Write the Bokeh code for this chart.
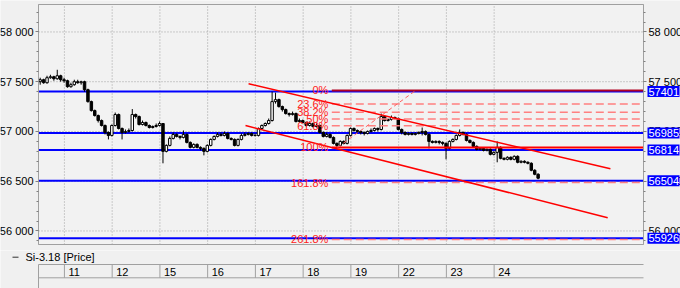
from bokeh.plotting import figure
from bokeh.models import Range1d, FixedTicker, ColumnDataSource, LinearAxis
from bokeh.layouts import column
from bokeh.core.properties import value
from bokeh.embed import file_html
from bokeh.resources import INLINE

# ---------------- data ----------------
series_name = "Si-3.18 [Price]"
day_labels = ["11", "12", "15", "16", "17", "18", "19", "22", "23", "24"]
day_start_bar = [8, 22, 36, 50, 64, 78, 92, 106, 120, 134]

opens = [57500,57520,57490,57540,57550,57530,57560,57520,57510,57450,
57470,57500,57490,57500,57420,57300,57210,57160,57110,57060,
56990,56960,57060,57170,57030,56990,57000,57010,57170,57150,
57070,57090,57060,57040,57050,57060,57080,56800,56860,56930,
56970,56950,56940,56970,56890,56840,56870,56840,56830,56800,
56860,56920,56950,56970,56960,56980,56930,56920,56860,56920,
56960,56970,56980,56960,56960,57030,57060,57080,57110,57300,
57320,57250,57220,57180,57170,57180,57100,57110,57090,57060,
57080,57050,57060,56990,56950,56970,56940,56880,56860,56900,
56880,56960,57030,57010,57000,56990,56980,57000,57010,57030,
57020,57150,57110,57120,57140,57130,57020,56990,56970,56980,
56970,56980,56990,57000,56970,56900,56890,56900,56890,56880,
56830,56900,56920,56960,56990,56970,56910,56890,56850,56820,
56830,56810,56820,56770,56790,56840,56730,56720,56740,56720,
56750,56690,56700,56690,56680,56610,56570]

closes = [57520,57490,57540,57550,57530,57560,57520,57510,57450,57470,
57500,57490,57500,57420,57300,57210,57160,57110,57060,56990,
56960,57060,57170,57030,56990,57000,57010,57170,57150,57070,
57090,57060,57040,57050,57060,57080,56800,56860,56930,56970,
56950,56940,56970,56890,56840,56870,56840,56830,56800,56860,
56920,56950,56970,56960,56980,56930,56920,56860,56920,56960,
56970,56980,56960,56960,57030,57060,57080,57110,57300,57320,
57250,57220,57180,57170,57180,57100,57110,57090,57060,57080,
57050,57060,56990,56950,56970,56940,56880,56860,56900,56880,
56960,57030,57010,57000,56990,56980,57000,57010,57030,57020,
57150,57110,57120,57140,57130,57020,56990,56970,56980,56970,
56980,56990,57000,56970,56900,56890,56900,56890,56880,56830,
56900,56920,56960,56990,56970,56910,56890,56850,56820,56830,
56810,56820,56770,56790,56840,56730,56720,56740,56720,56750,
56690,56700,56690,56680,56610,56570,56530]

highs = [57540,57530,57560,57570,57560,57620,57570,57540,57520,57490,
57520,57520,57510,57510,57430,57310,57220,57170,57120,57070,
57000,57070,57190,57180,57040,57020,57030,57225,57180,57160,
57110,57100,57070,57060,57080,57100,57085,56870,56950,56990,
56980,56960,57010,56980,56900,56880,56880,56850,56840,56870,
56930,56960,56990,56990,57000,56990,56940,56930,56930,56980,
56990,56990,56990,56980,57040,57070,57090,57130,57400,57390,
57330,57260,57230,57190,57200,57190,57130,57120,57100,57100,
57090,57080,57070,57000,56990,56980,56950,56890,56910,56910,
56970,57040,57040,57020,57010,57000,57010,57030,57040,57040,
57180,57160,57130,57160,57150,57140,57030,57000,56990,56990,
56990,57000,57040,57010,56980,56910,56910,56910,56900,56890,
56910,56930,56970,57020,57000,56980,56920,56900,56860,56840,
56840,56830,56830,56800,56900,56850,56740,56750,56750,56760,
56760,56710,56710,56700,56690,56620,56580]

lows = [57470,57480,57480,57530,57510,57520,57500,57490,57440,57440,
57460,57480,57470,57400,57290,57200,57150,57090,57050,56970,
56920,56950,57050,57020,56920,56980,56990,57000,57130,57060,
57060,57050,57030,57030,57040,57050,56680,56790,56850,56920,
56940,56920,56930,56880,56830,56830,56830,56810,56760,56790,
56850,56910,56940,56950,56950,56920,56910,56850,56850,56910,
56950,56960,56950,56950,56950,57020,57050,57070,57100,57280,
57240,57200,57170,57150,57160,57090,57090,57080,57050,57050,
57040,57040,56980,56940,56940,56930,56870,56845,56850,56870,
56870,56950,57000,56980,56970,56960,56970,56990,57000,57000,
57010,57100,57100,57110,57120,57010,56970,56960,56960,56960,
56960,56970,56960,56960,56830,56880,56880,56870,56860,56720,
56820,56890,56910,56950,56960,56900,56880,56840,56810,56810,
56800,56800,56760,56760,56690,56720,56710,56710,56710,56710,
56680,56680,56680,56670,56600,56560,56520]

ytick_values = [56000, 56500, 57000, 57500, 58000]
ytick_labels = ["56 000", "56 500", "57 000", "57 500", "58 000"]
price_levels = [57401, 56985, 56814, 56504, 55926]

fib_ratios = [0, 23.6, 38.2, 50, 61.8, 100, 161.8, 261.8]
fib_texts = ["0%", "23.6%", "38.2%", "50%", "61.8%", "100%", "161.8%", "261.8%"]
fib_high = 57412
fib_low = 56840
fib_anchor_bars = [87.7, 110.6]

channel_upper_x = [61.6, 167.7]
channel_upper_y = [57479, 56625]
channel_lower_x = [60.7, 166.9]
channel_lower_y = [57060, 56133]

# ---------------- layout constants ----------------
X0, X1 = 0.0, 177.4          # bar-units spanned by the plot area
Y0, Y1 = 55864, 58276        # price span of the plot area
FRAME_W, FRAME_H = 605, 240
PX = FRAME_W / (X1 - X0)     # pixels per bar
PY = FRAME_H / (Y1 - Y0)     # pixels per price unit
LEFT, RIGHT = 38, 37
TOP, BOT = 4, 6
FONT = "Liberation Sans"
BG = "#f0f0f0"
GRIDC = "#a0a0a0"

bx0 = X0 - LEFT / PX
bx1 = X1 + RIGHT / PX

p = figure(width=680, height=250,
           x_range=Range1d(bx0, bx1),
           y_range=Range1d(Y0 - BOT / PY, Y1 + TOP / PY),
           x_axis_location=None, y_axis_location=None, toolbar_location=None,
           output_backend="svg", min_border=0,
           background_fill_color=BG, border_fill_color=BG, outline_line_color=None)
p.grid.visible = False

# plot area
p.quad(left=[X0], right=[X1], bottom=[Y0], top=[Y1],
       fill_color="#f2f2f2", line_color="#a0a0a0", line_width=1)

for loc, fx in (("left", X0), ("right", X1)):
    ax = LinearAxis(fixed_location=fx, bounds=(Y0, Y1),
                    ticker=FixedTicker(ticks=ytick_values,
                                       minor_ticks=list(range(55900, 58300, 100))))
    ax.major_label_overrides = {v: s for v, s in zip(ytick_values, ytick_labels)}
    ax.major_label_text_font = FONT
    ax.major_label_text_font_size = "11px"
    ax.major_label_text_color = "black"
    ax.major_tick_out = 3
    ax.major_tick_in = 0
    ax.minor_tick_out = 2
    ax.minor_tick_in = 0
    ax.major_label_standoff = 2
    ax.axis_line_color = "#a0a0a0"
    ax.major_tick_line_color = "#808080"
    ax.minor_tick_line_color = "#808080"
    p.add_layout(ax, loc)

# dotted grid inside the plot area
n_t = len(ytick_values)
p.segment(x0=[X0] * n_t, x1=[X1] * n_t, y0=ytick_values, y1=ytick_values,
          line_color=GRIDC, line_dash="1 2", line_width=1)
sep = [d - 0.4 for d in day_start_bar]
p.segment(x0=sep, x1=sep, y0=[Y0] * len(sep), y1=[Y1] * len(sep),
          line_color=GRIDC, line_dash="1 2", line_width=1)

# blue horizontal levels
n_lv = len(price_levels)
p.segment(x0=[X0] * n_lv, x1=[X1] * n_lv, y0=price_levels, y1=price_levels,
          line_color="#0000ff", line_width=2)

# candles
n = len(closes)
src = ColumnDataSource(dict(
    x=[i + 0.5 for i in range(n)], h=highs, l=lows,
    top=[max(o, c) for o, c in zip(opens, closes)],
    bot=[min(o, c) for o, c in zip(opens, closes)],
    fill=["white" if c >= o else "black" for o, c in zip(opens, closes)]))
p.segment(x0="x", y0="h", x1="x", y1="l", source=src, line_color="black", line_width=1)
p.vbar(x="x", width=0.72, top="top", bottom="bot", source=src,
       fill_color="fill", line_color="black", line_width=1)

# fibonacci levels
fib_levels = [fib_high - r / 100.0 * (fib_high - fib_low) for r in fib_ratios]
fx0 = 86.0
dashed = [lv for r, lv in zip(fib_ratios, fib_levels) if r not in (0, 100)]
p.segment(x0=[fx0] * len(dashed), x1=[X1] * len(dashed), y0=dashed, y1=dashed,
          line_color="#ff8080", line_width=1.5, line_dash="8 4")
p.segment(x0=[fx0], x1=[X1], y0=[fib_levels[0]], y1=[fib_levels[0]],
          line_color="#b00020", line_width=2)
p.segment(x0=[fx0], x1=[X1], y0=[fib_levels[5]], y1=[fib_levels[5]],
          line_color="#ff0000", line_width=2)
p.line(x=fib_anchor_bars, y=[fib_low, fib_high], line_color="#ff6060",
       line_width=1, line_dash="4 3")

# channel
p.line(x=channel_upper_x, y=channel_upper_y, line_color="#ff0000", line_width=1.5)
p.line(x=channel_lower_x, y=channel_lower_y, line_color="#ff0000", line_width=1.5)

p.text(x=[85.0] * len(fib_levels), y=fib_levels, text=fib_texts,
       text_font=value(FONT), text_font_size="11px", text_color="#ff2020",
       text_align="right", text_baseline="middle")

# price boxes on the right scale (drawn above the axis labels)
p.quad(left=[X1 + 4 / PX] * n_lv, right=[X1 + 36 / PX] * n_lv,
       bottom=[lv - 5.5 / PY for lv in price_levels],
       top=[lv + 5.5 / PY for lv in price_levels],
       fill_color="#0000ff", line_color=None, level="annotation")
p.text(x=[X1 + 5 / PX] * n_lv, y=price_levels, text=[str(lv) for lv in price_levels],
       text_font=value(FONT), text_font_size="11px", text_color="white",
       text_align="left", text_baseline="middle", level="annotation")

# ---------------- bottom strip: legend + date row ----------------
q = figure(width=680, height=38, x_range=Range1d(bx0, bx1), y_range=Range1d(0, 38),
           x_axis_location=None, y_axis_location=None, toolbar_location=None,
           output_backend="svg", min_border=0,
           background_fill_color=BG, border_fill_color=BG, outline_line_color=None)
q.grid.visible = False

q.segment(x0=[X0 - 26 / PX], x1=[X0 - 20 / PX], y0=[31.3], y1=[31.3],
          line_color="#303030", line_width=1)
q.text(x=[X0 - 13 / PX], y=[31.3], text=[series_name], text_font=value(FONT),
       text_font_size="11px", text_color="black", text_baseline="middle")

q.segment(x0=[X0, X0], x1=[X1, X1], y0=[24, 10.7], y1=[24, 10.7],
          line_color="#a0a0a0", line_width=1)
q.segment(x0=[X0], x1=[X0], y0=[0], y1=[24], line_color="#a0a0a0", line_width=1)
q.segment(x0=sep, x1=sep, y0=[10.7] * len(sep), y1=[24] * len(sep),
          line_color="#a0a0a0", line_width=1)
q.text(x=[s + 4 / PX for s in sep], y=[17] * len(sep), text=day_labels,
       text_font=value(FONT), text_font_size="11px", text_color="black",
       text_baseline="middle", text_align="left")

layout = column(p, q, spacing=0)
open("out.html", "w").write(file_html(layout, INLINE))
